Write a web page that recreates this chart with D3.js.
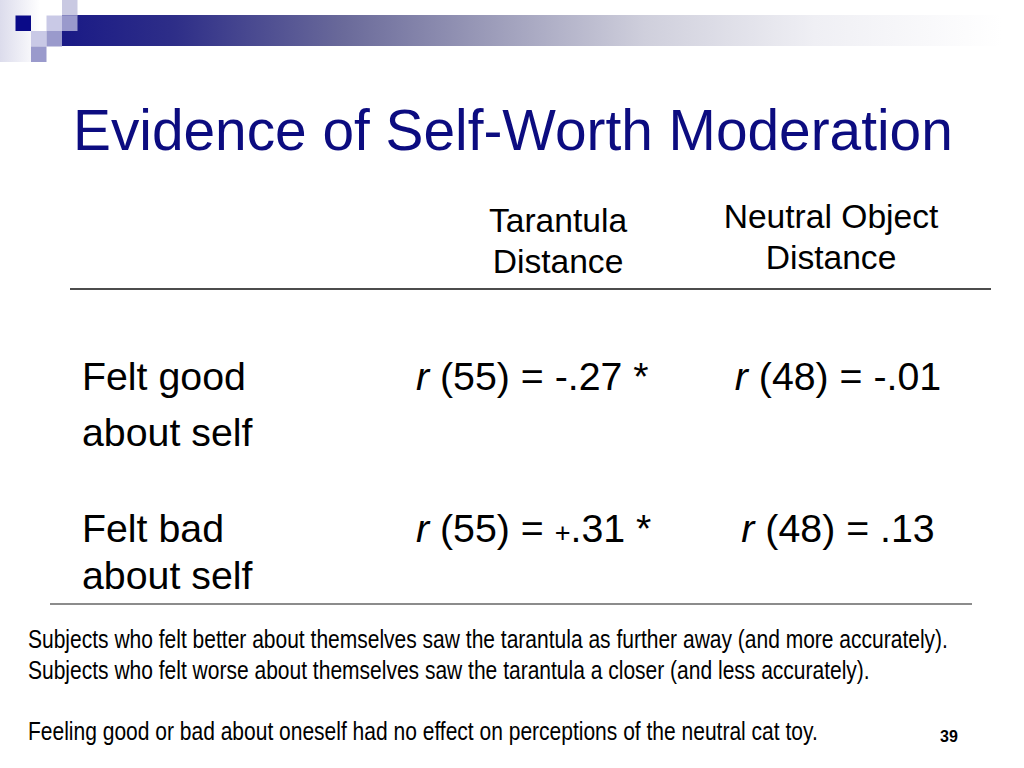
<!DOCTYPE html>
<html>
<head>
<meta charset="utf-8">
<script src="https://cdn.jsdelivr.net/npm/d3@7"></script>
<style>
  html, body { margin: 0; padding: 0; background: #fff; }
  svg { display: block; }
</style>
</head>
<body>
<svg id="slide" width="1024" height="768"></svg>
<script>
// ---------- data ----------
const title = "Evidence of Self-Worth Moderation";
const columns = ["Tarantula Distance", "Neutral Object Distance"];
const columnHeaderLines = [["Tarantula", "Distance"], ["Neutral Object", "Distance"]];
const rowLabels = [["Felt good", "about self"], ["Felt bad", "about self"]];
const degreesOfFreedom = [55, 48];
const correlations = [["-.27", "-.01"], ["+.31", ".13"]];
const significance = [["*", ""], ["*", ""]];
const footnotes = [
  "Subjects who felt better about themselves saw the tarantula as further away (and more accurately).",
  "Subjects who felt worse about themselves saw the tarantula a closer (and less accurately).",
  "Feeling good or bad about oneself had no effect on perceptions of the neutral cat toy."
];
const pageNumber = "39";

// ---------- layout ----------
const svg = d3.select("#slide");
const FONT = "'Liberation Sans', Arial, Helvetica, sans-serif";

// decoration
const defs = svg.append("defs");
const grad = defs.append("linearGradient").attr("id", "barGrad")
  .attr("x1", "0%").attr("x2", "100%").attr("y1", "0%").attr("y2", "0%");
[[0, "#1a1a86"], [0.12, "#2e2e88"], [0.3, "#6a6a9a"], [0.45, "#9a9ab8"], [0.62, "#cfcfdc"], [0.8, "#efeff4"], [1, "#ffffff"]]
  .forEach(([o, c]) => grad.append("stop").attr("offset", o).attr("stop-color", c));
const lgrad = defs.append("linearGradient").attr("id", "leftGrad")
  .attr("x1", "0%").attr("x2", "100%");
lgrad.append("stop").attr("offset", 0).attr("stop-color", "#dcdcec");
lgrad.append("stop").attr("offset", 1).attr("stop-color", "#ffffff");

svg.append("rect").attr("x", 0).attr("y", 0).attr("width", 40).attr("height", 62).attr("fill", "url(#leftGrad)");
svg.append("rect").attr("x", 62).attr("y", 15).attr("width", 940).attr("height", 31).attr("fill", "url(#barGrad)");

const sq = 15.5;
const squares = [
  [4, 0, "#c9c9e2"],
  [1, 1, "#0a0a88"],
  [3, 1, "#c9c9e6"],
  [4, 1, "#9a9acc"],
  [2, 2, "#c9c9e6"],
  [3, 2, "#9a9acc"],
  [2, 3, "#9a9acc"]
];
const sqScale = d3.scaleLinear().domain([0, 1]).range([0, sq]);
svg.selectAll("rect.sq").data(squares).join("rect").attr("class", "sq")
  .attr("x", d => sqScale(d[0])).attr("y", d => sqScale(d[1]))
  .attr("width", sq).attr("height", sq).attr("fill", d => d[2]);

// title
svg.append("text").attr("x", 73).attr("y", 150)
  .attr("font-family", FONT).attr("font-size", 56.8).attr("fill", "#0c0c80")
  .text(title);

// table scales
const colX = d3.scaleOrdinal().domain(columns).range([558, 831]);
const valueX = d3.scaleOrdinal().domain(columns).range([416, 838]);
const valueAnchor = d3.scaleOrdinal().domain(columns).range(["start", "middle"]);
const headerTop = d3.scaleOrdinal().domain(columns).range([232, 228]);
const rowIdx = d3.range(rowLabels.length);
const rowY = d3.scaleOrdinal().domain(rowIdx).range([390, 542]);
const rowLineGap = d3.scaleOrdinal().domain(rowIdx).range([56, 47]);
const BODY = 39.3;

// headers
const hdr = svg.selectAll("g.hdr").data(columns).join("g").attr("class", "hdr");
hdr.each(function (c, i) {
  d3.select(this).selectAll("text").data(columnHeaderLines[i]).join("text")
    .attr("x", colX(c)).attr("y", (d, j) => headerTop(c) + j * 41)
    .attr("text-anchor", "middle").attr("font-family", FONT).attr("font-size", 33.6).attr("fill", "#000")
    .text(d => d);
});

// rules
svg.append("line").attr("x1", 70).attr("x2", 991).attr("y1", 289).attr("y2", 289)
  .attr("stroke", "#111").attr("stroke-width", 1.5);
svg.append("line").attr("x1", 50).attr("x2", 972).attr("y1", 604).attr("y2", 604)
  .attr("stroke", "#666").attr("stroke-width", 1.5);

// rows
const rows = svg.selectAll("g.row").data(rowIdx).join("g").attr("class", "row");
rows.each(function (r) {
  const g = d3.select(this);
  g.selectAll("text.lab").data(rowLabels[r]).join("text").attr("class", "lab")
    .attr("x", 82).attr("y", (d, j) => rowY(r) + j * rowLineGap(r))
    .attr("font-family", FONT).attr("font-size", BODY).attr("fill", "#000")
    .text(d => d);
  columns.forEach((c, ci) => {
    const t = g.append("text")
      .attr("x", valueX(c)).attr("y", rowY(r))
      .attr("text-anchor", valueAnchor(c))
      .attr("font-family", FONT).attr("font-size", BODY).attr("fill", "#000")
      .attr("xml:space", "preserve");
    t.append("tspan").attr("font-style", "italic").text("r");
    t.append("tspan").text(" (" + degreesOfFreedom[ci] + ") = ");
    const v = correlations[r][ci];
    if (v.startsWith("+")) {
      t.append("tspan").attr("font-size", 27).text("+");
      t.append("tspan").text(v.slice(1));
    } else {
      t.append("tspan").text(v);
    }
    if (significance[r][ci]) t.append("tspan").text(" " + significance[r][ci]);
  });
});

// footnotes (condensed like Arial Narrow)
const footY = d3.scaleOrdinal().domain(d3.range(footnotes.length)).range([648, 679, 740]);
const NARROW_X = 0.82;
const fn = svg.selectAll("text.fn").data(footnotes).join("text").attr("class", "fn")
  .attr("font-family", FONT).attr("font-size", 24).attr("fill", "#000")
  .attr("transform", (d, i) => `translate(28,${footY(i)}) scale(${NARROW_X},1)`)
  .text(d => d);
const len0 = fn.nodes()[0].getComputedTextLength();
fn.attr("font-size", 24 * 920 / (len0 * NARROW_X));

svg.append("text").attr("x", 940).attr("y", 742)
  .attr("font-family", FONT).attr("font-weight", "bold").attr("font-size", 16).attr("fill", "#000")
  .text(pageNumber);
</script>
</body>
</html>
